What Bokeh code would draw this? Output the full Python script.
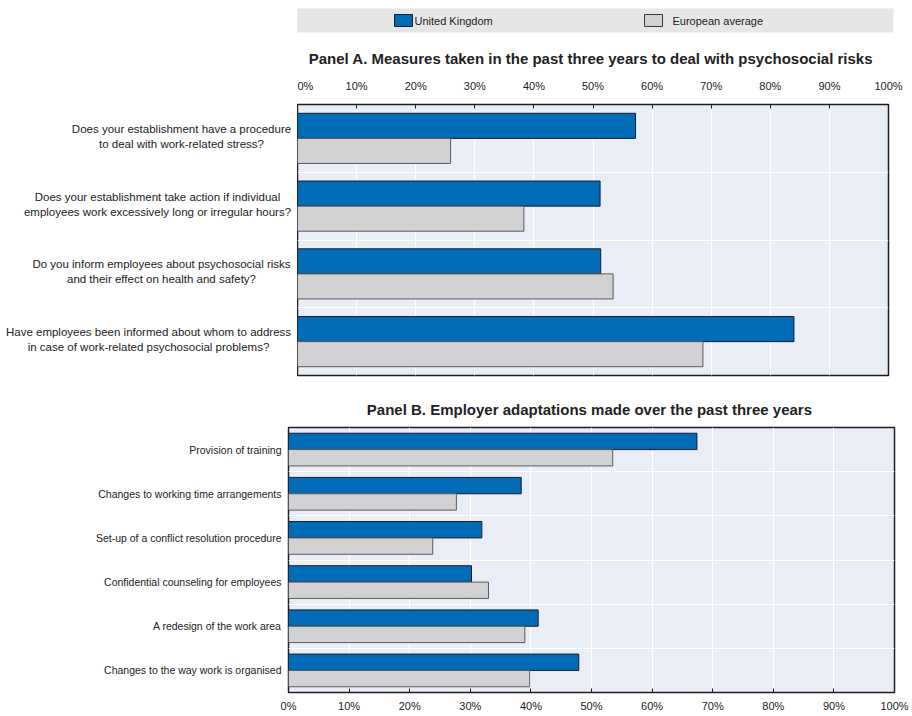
from bokeh.plotting import figure
from bokeh.models import Range1d, FixedTicker, LinearAxis
from bokeh.layouts import column, row
from bokeh.embed import file_html
from bokeh.resources import INLINE
from bokeh.core.properties import value
import numpy as np

# ---------------- data ----------------
series_names = ["United Kingdom", "European average"]

cats_a = [
    "Does your establishment have a procedure\nto deal with work-related stress?",
    "Does your establishment take action if individual\nemployees work excessively long or irregular hours?",
    "Do you inform employees about psychosocial risks\nand their effect on health and safety?",
    "Have employees been informed about whom to address\nin case of work-related psychosocial problems?",
]
uk_a = [57.2, 51.2, 51.3, 84.0]
eu_a = [25.9, 38.3, 53.4, 68.6]

cats_b = [
    "Provision of training",
    "Changes to working time arrangements",
    "Set-up of a conflict resolution procedure",
    "Confidential counseling for employees",
    "A redesign of the work area",
    "Changes to the way work is organised",
]
uk_b = [67.4, 38.4, 31.9, 30.2, 41.2, 47.9]
eu_b = [53.5, 27.7, 23.8, 33.0, 39.0, 39.8]

pct_ticks = list(range(0, 101, 10))
pct_labels = [f"{t}%" for t in pct_ticks]

title_a = "Panel A.  Measures taken in the past three years to deal with psychosocial risks"
title_b = "Panel B.  Employer adaptations made over the past three years"

# ---------------- style ----------------
FONT = "Liberation Sans"
UK_COL = "#006bb6"
EU_COL = "#d2d2d4"
FRAME_BG = "#e9edf6"
TXT = "#222222"
W = 912


def style_fig(p, standoff):
    p.background_fill_color = FRAME_BG
    p.border_fill_color = "white"
    p.outline_line_color = "#1e1e1e"
    p.outline_line_width = 1.5
    p.title.text_font = FONT
    p.title.text_font_style = "bold"
    p.title.text_font_size = "15px"
    p.title.text_color = TXT
    p.title.align = "center"
    p.title.standoff = standoff


def style_xaxis(ax, standoff):
    ax.ticker = FixedTicker(ticks=pct_ticks)
    ax.major_label_overrides = {t: l for t, l in zip(pct_ticks, pct_labels)}
    ax.major_tick_in = 4
    ax.major_tick_out = 0
    ax.minor_tick_in = 0
    ax.minor_tick_out = 0
    ax.major_tick_line_color = "#1e1e1e"
    ax.axis_line_color = "#1e1e1e"
    ax.major_label_text_font = FONT
    ax.major_label_text_font_size = "11px"
    ax.major_label_text_color = TXT
    ax.major_label_standoff = standoff


def draw_bars(p, uk, eu, n):
    centers = n - np.arange(n) - 0.5
    h = 0.37
    p.hbar(y=centers + h / 2, left=0, right=uk, height=h,
           fill_color=UK_COL, line_color="#1c1c2a", line_width=1)
    p.hbar(y=centers - h / 2, left=0, right=eu, height=h,
           fill_color=EU_COL, line_color="#5a5a5a", line_width=1)
    return centers


def set_grids(p, n):
    p.xgrid.ticker = FixedTicker(ticks=pct_ticks)
    p.xgrid.grid_line_color = "white"
    p.xgrid.grid_line_width = 1
    p.ygrid.ticker = FixedTicker(ticks=list(range(1, n)))
    p.ygrid.grid_line_color = "white"
    p.ygrid.grid_line_width = 1


# ---------------- legend strip ----------------
HL = 34
leg = figure(width=W, height=HL, x_range=Range1d(0, W), y_range=Range1d(HL, 0),
             toolbar_location=None, output_backend="svg",
             min_border=0, x_axis_location=None, y_axis_location=None)
leg.outline_line_color = None
leg.background_fill_color = "white"
leg.grid.visible = False
leg.quad(left=[297], right=[893], top=[8], bottom=[32], fill_color="#e6e6e6", line_color=None)
leg.quad(left=[394], right=[412], top=[14], bottom=[26], fill_color=UK_COL, line_color="#1c1c2a")
leg.quad(left=[644], right=[662], top=[14], bottom=[26], fill_color=EU_COL, line_color="#3a3a3a")
leg.text(x=[414, 672], y=[20.5, 20.5], text=series_names, text_baseline="middle",
         text_align="left", text_font=value(FONT), text_font_size="11px", text_color=TXT)

# ---------------- panel A ----------------
na = len(cats_a)
LA = 297
HA = 352
pa = figure(width=W - LA, height=HA, x_range=Range1d(0, 100), y_range=Range1d(0, na),
            toolbar_location=None, output_backend="svg",
            x_axis_location=None, y_axis_location=None,
            min_border_left=0, min_border_right=W - 888,
            min_border_top=70, min_border_bottom=11, title=title_a)
style_fig(pa, 20)
axa = LinearAxis()
style_xaxis(axa, 13)
pa.add_layout(axa, "above")
set_grids(pa, na)
centers_a = draw_bars(pa, uk_a, eu_a, na)

# category labels of panel A: a text strip sharing the y range
la = figure(width=LA, height=HA, x_range=Range1d(0, LA), y_range=pa.y_range,
            toolbar_location=None, output_backend="svg",
            x_axis_location=None, y_axis_location=None,
            min_border_left=0, min_border_right=0,
            min_border_top=70, min_border_bottom=11)
la.outline_line_color = None
la.background_fill_color = "white"
la.grid.visible = False
label_center_px = [181, 157, 161, 148]
la.text(x=label_center_px, y=centers_a, text=cats_a, text_align="center",
        text_baseline="middle", text_font=value(FONT), text_font_size="11.5px",
        text_color=TXT, text_line_height=1.25, y_offset=-2)

# ---------------- panel B ----------------
nb = len(cats_b)
pb = figure(width=W, height=330, x_range=Range1d(0, 100), y_range=Range1d(0, nb),
            toolbar_location=None, output_backend="svg",
            x_axis_location=None, y_axis_location=None,
            min_border_left=288, min_border_right=W - 894,
            min_border_top=41, min_border_bottom=24, title=title_b)
style_fig(pb, 20)
axb = LinearAxis()
style_xaxis(axb, 7)
pb.add_layout(axb, "below")
centers_b = draw_bars(pb, uk_b, eu_b, nb)
yax = LinearAxis()
yax.ticker = FixedTicker(ticks=list(centers_b))
yax.major_label_overrides = {float(c): name for c, name in zip(centers_b, cats_b)}
yax.major_tick_in = 0
yax.major_tick_out = 0
yax.axis_line_color = None
yax.major_label_text_font = FONT
yax.major_label_text_font_size = "10.5px"
yax.major_label_text_color = TXT
yax.major_label_standoff = 7
pb.add_layout(yax, "left")
set_grids(pb, nb)

layout = column(row(leg), row(la, pa), row(pb), spacing=0)
open("out.html", "w").write(file_html(layout, INLINE))
